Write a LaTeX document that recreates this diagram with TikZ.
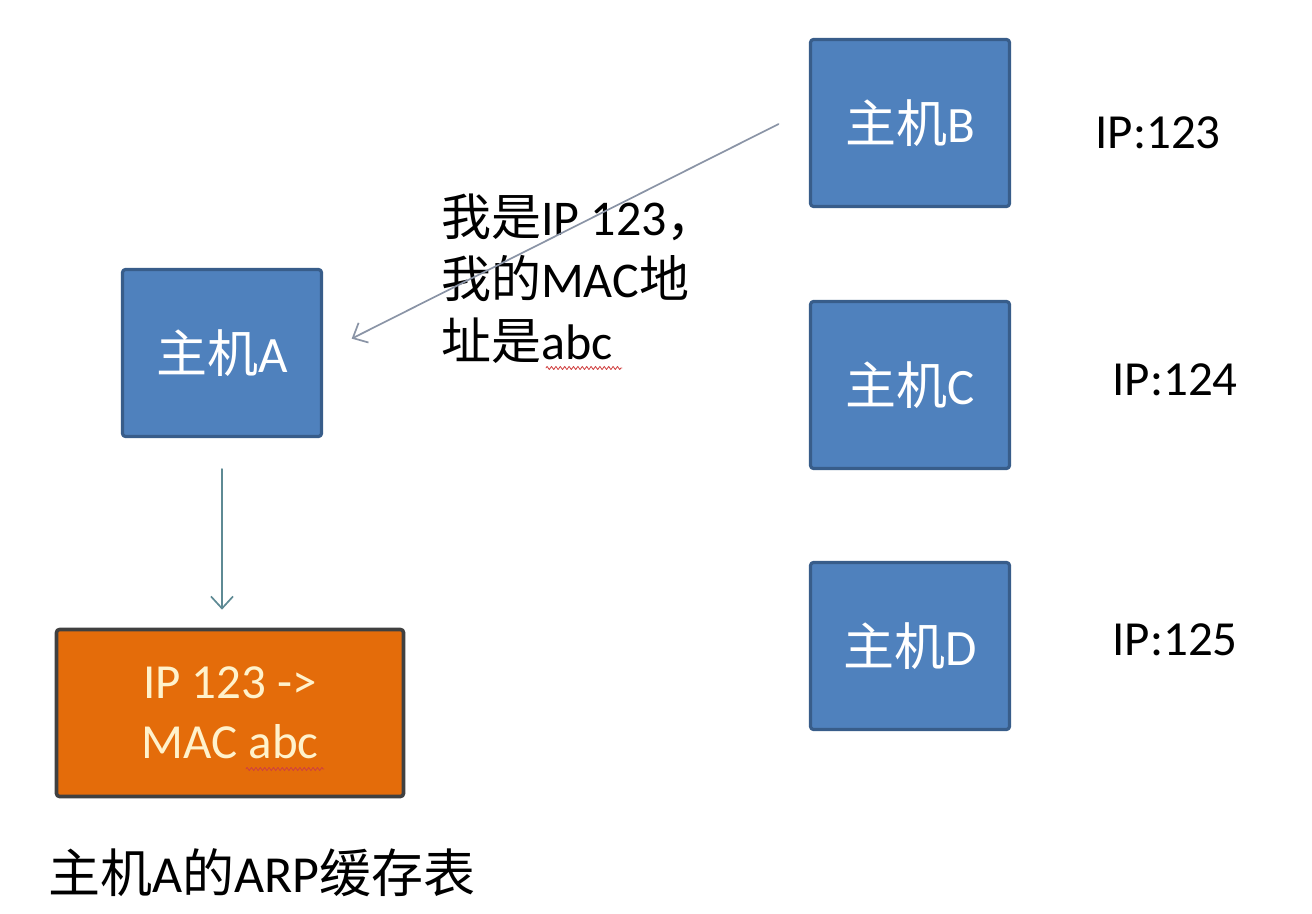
\documentclass[tikz,border=0pt]{standalone}
\usepackage{fontspec}
\setmainfont{Carlito}
\newfontfamily\cjk{Noto Sans CJK SC}
\usepackage{tikz}
\usetikzlibrary{arrows.meta,calc,positioning,decorations.pathmorphing}
\definecolor{hostblue}{HTML}{4F81BD}
\definecolor{hostline}{HTML}{385D8A}
\definecolor{cacheorange}{HTML}{E46C0A}
\definecolor{cacheline}{HTML}{404040}
\definecolor{cachetext}{HTML}{FFF2CC}
\definecolor{msgline}{HTML}{8A94A6}
\definecolor{downline}{HTML}{5E8A94}
\definecolor{spellred}{HTML}{D04040}
\tikzset{
every picture/.style={line cap=round,line join=round},
host box/.style={
  draw=hostline,
  fill=hostblue,
  line width=1.6pt,
  rounded corners=1.5pt,
  minimum width=99.5pt,
  minimum height=83.5pt,
  text=white,
  font=\fontsize{25.5}{30}\selectfont
},
cache box/.style={
  draw=cacheline,
  fill=cacheorange,
  line width=1.8pt,
  rounded corners=1.5pt,
  minimum width=173.5pt,
  minimum height=83.5pt,
  align=center,
  text=cachetext,
  font=\fontsize{24.5}{30}\selectfont
},
ip label/.style={font=\fontsize{24.5}{30}\selectfont, text=black},
msg label/.style={font=\fontsize{25}{31}\selectfont, text=black, align=left},
msg flow/.style={
  draw=msgline,
  line width=0.85pt,
  -{Straight Barb[length=6pt,width=11pt,line width=0.85pt]}
},
spell mark/.style={
  draw=spellred,
  line width=0.4pt,
  decorate,
  decoration={zigzag,amplitude=0.8pt,segment length=2.2pt}
}
}
\begin{document}
\begin{tikzpicture}[x=0.5pt,y=-0.5pt]
\useasboundingbox (0,0) rectangle (1312,914);
% hosts
\node[host box] (A) at (222,353) {{\cjk 主机}A};
\node[host box] (B) at (910,123) {{\cjk 主机}B};
\node[host box] (C) at (910,385) {{\cjk 主机}C};
\node[host box] (D) at (910,646) {{\cjk 主机}D};
\node[ip label] (ipB) at (1158,133) {IP:123};
\node[ip label] (ipC) at (1175,380) {IP:124};
\node[ip label] (ipD) at (1175,640) {IP:125};
% ARP cache of A
\node[cache box] (R) at (230,713) {IP 123 -{}>\\MAC abc};
\node[anchor=west, font=\fontsize{26}{32}\selectfont] (cap) at (41,873) {{\cjk 主机}A{\cjk 的}ARP{\cjk 缓存表}};
% reply from B
\node[msg label, anchor=west] (msg) at (434,279) {{\cjk 我是}IP 123{\cjk ，}\\{\cjk 我的}MAC{\cjk 地}\\{\cjk 址是}abc};
\draw[msg flow, shorten <=17pt, shorten >=16pt] (B.172) -- (A.east);
\draw[msg flow, draw=downline, shorten <=15.5pt, shorten >=9pt] (A.south) -- (A.south |- R.north);
% spelling marks
\draw[spell mark] (546,368) -- (622,368);
\draw[spell mark] (246,769) -- (324,769);
\end{tikzpicture}
\end{document}
